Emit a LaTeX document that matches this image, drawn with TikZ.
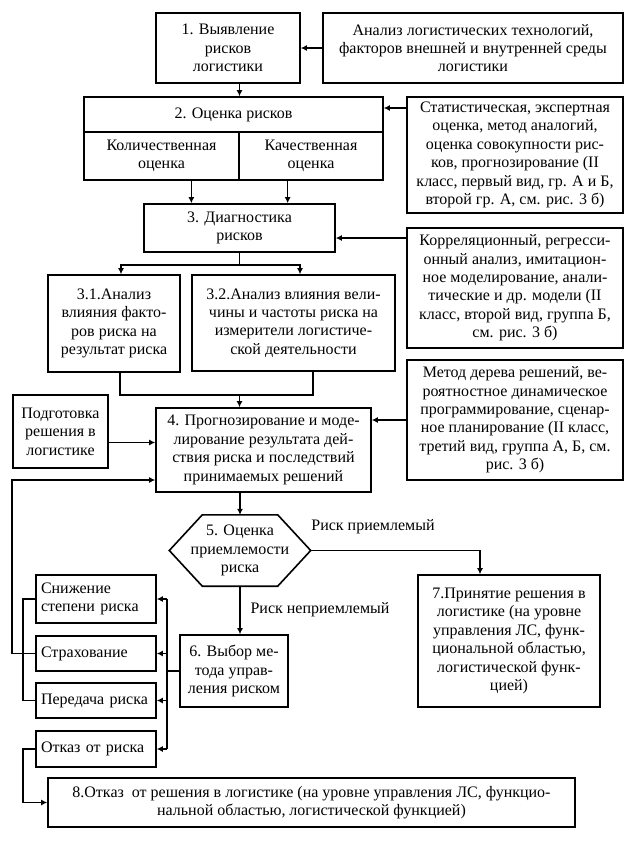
\documentclass[tikz,border=0pt]{standalone}
\usepackage{fontspec}
\setmainfont{Liberation Serif}
\usetikzlibrary{arrows.meta,calc}

\begin{document}
\begin{tikzpicture}[x=1pt,y=-1pt,
    every node/.style={font=\fontsize{16}{18.4}\selectfont},
    blk/.style={draw,line width=1.6pt,align=center,inner sep=0pt},
    lst/.style={blk,align=left,inner xsep=5pt,text width=110pt},
    ln/.style={line width=1.6pt},
    arr/.style={ln,-{Latex[length=6pt,width=6pt]}}]
  \useasboundingbox (0,0) rectangle (636,841);
  \node[blk,minimum width=144pt,minimum height=70pt] (b1) at (228,48)
    {1. Выявление\\рисков\\логистики};
  \node[blk,minimum width=300pt,minimum height=70pt] (an) at (473,48)
    {Анализ логистических технологий,\\факторов внешней и внутренней среды\\логистики};
  \node[blk,minimum width=299pt,minimum height=35pt] (b2) at (233.5,114.5) {2. Оценка рисков};
  \node[blk,minimum width=155pt,minimum height=48pt] (qn) at (161.5,156) {Количественная\\оценка};
  \node[blk,minimum width=144pt,minimum height=48pt] (ql) at (311,156) {Качественная\\оценка};
  \node[blk,minimum width=216pt,minimum height=116pt] (st) at (515,155)
    {Статистическая, экспертная\\оценка, метод аналогий,\\оценка совокупности рис-\\ков, прогнозирование (II\\класс, первый вид, гр. А и Б,\\второй гр. А, см. рис. 3 б)};
  \node[blk,minimum width=191pt,minimum height=48pt] (b3) at (239.5,228) {3. Диагностика\\рисков};
  \node[blk,minimum width=216pt,minimum height=120pt] (cr) at (515,288)
    {Корреляционный, регресси-\\онный анализ, имитацион-\\ное моделирование, анали-\\тические и др. модели (II\\класс, второй вид, группа Б,\\см. рис. 3 б)};
  \node[blk,minimum width=132pt,minimum height=97pt] (b31) at (114,323.5)
    {3.1.Анализ\\влияния факто-\\ров риска на\\результат риска};
  \node[blk,minimum width=203pt,minimum height=96pt] (b32) at (293.5,323)
    {3.2.Анализ влияния вели-\\чины и частоты риска на\\измерители логистиче-\\ской деятельности};
  \node[blk,minimum width=216pt,minimum height=120pt] (md) at (515,420)
    {Метод дерева решений, ве-\\роятностное динамическое\\программирование, сценар-\\ное планирование (II класс,\\третий вид, группа А, Б, см.\\рис. 3 б)};
  \node[blk,minimum width=95pt,minimum height=73pt] (pr) at (60.5,431.5) {Подготовка\\решения в\\логистике};
  \node[blk,minimum width=215pt,minimum height=84pt] (b4) at (263.5,450)
    {4. Прогнозирование и моде-\\лирование результата дей-\\ствия риска и последствий\\принимаемых решений};
  \node[align=center,inner sep=0pt,minimum width=141pt,minimum height=71pt] (hex) at (240,550.5)
    {5. Оценка\\приемлемости\\риска};
  \draw[ln] (hex.west) -- ([xshift=33pt]hex.north west) -- ([xshift=-33pt]hex.north east)
    -- (hex.east) -- ([xshift=-33pt]hex.south east) -- ([xshift=33pt]hex.south west) -- cycle;
  \node (ok) at (373,527) {Риск приемлемый};
  \node (nok) at (320,610) {Риск неприемлемый};
  \node[blk,minimum width=182pt,minimum height=132pt] (b7) at (509,641)
    {7.Принятие решения в\\логистике (на уровне\\управления ЛС, функ-\\циональной областью,\\логистической функ-\\цией)};
  \node[blk,minimum width=108pt,minimum height=72pt] (b6) at (234,671) {6. Выбор ме-\\тода управ-\\ления риском};
  \node[lst,minimum height=48pt] (sn) at (96,599) {Снижение\\степени риска};
  \node[lst,minimum height=35pt] (sf) at (96,653.5) {Страхование};
  \node[lst,minimum height=35pt] (pd) at (96,700.5) {Передача риска};
  \node[lst,minimum height=36pt] (ot) at (96,749) {Отказ от риска};
  \node[blk,minimum width=527pt,minimum height=49pt] (b8) at (311.5,802.5)
    {8.Отказ\ \ от решения в логистике (на уровне управления ЛС, функцио-\\нальной областью, логистической функцией)};

  \draw[arr] (an.west) -- (b1.east);
  \draw[arr] (b1.south -| b3.north) -- (b2.north -| b3.north);
  \coordinate (s2) at ([yshift=6.5pt]b2.east);
  \draw[arr] (st.west |- s2) -- (s2);
  \coordinate (d1) at ($(b3.north west)!.25!(b3.north east)$);
  \coordinate (d2) at ($(b3.north west)!.75!(b3.north east)$);
  \draw[arr] (d1 |- qn.south) -- (d1);
  \draw[arr] (d2 |- ql.south) -- (d2);
  \coordinate (c3) at ([yshift=-10pt]b3.east);
  \draw[arr] (cr.west |- c3) -- (c3);
  \draw[arr] (b3.south) -- ++(0,12) -| ([xshift=7pt]b31.north);
  \draw[arr] (b3.south) -- ++(0,12) -| ([xshift=6.5pt]b32.north);
  \coordinate (j4) at ($(b4.north -| b3.south)+(0,-12)$);
  \draw[ln] ([xshift=6pt]b31.south) |- (j4) -| ([xshift=19.5pt]b32.south);
  \draw[arr] (j4) -- (j4 |- b4.north);
  \coordinate (m4) at ([yshift=30pt]b4.east);
  \draw[arr] (md.west |- m4) -- (m4);
  \draw[arr] ([yshift=-11pt]pr.east) -- ([yshift=-11pt]pr.east -| b4.west);
  \draw[arr] (hex.north |- b4.south) -- (hex.north);
  \draw[arr] (hex.east) -| ([xshift=-29pt]b7.north);
  \draw[arr] (hex.south) -- (hex.south |- b6.north);
  \coordinate (bus) at ([xshift=-12pt]b6.west);
  \draw[ln] (b6.west) -- (bus);
  \draw[ln] (bus |- sn.east) -- (bus |- ot.east);
  \foreach \n in {sn,sf,pd,ot}
    \draw[arr] (bus |- \n.east) -- (\n.east);
  \draw[ln] (sn.west) -- ++(-12,0) |- (pd.west);
  \draw[arr] (sf.west) -- ++(-23,0) |- ([yshift=-30pt]b4.west);
  \draw[arr] (ot.west) -- ++(-12,0) |- (b8.west);
\end{tikzpicture}
\end{document}
